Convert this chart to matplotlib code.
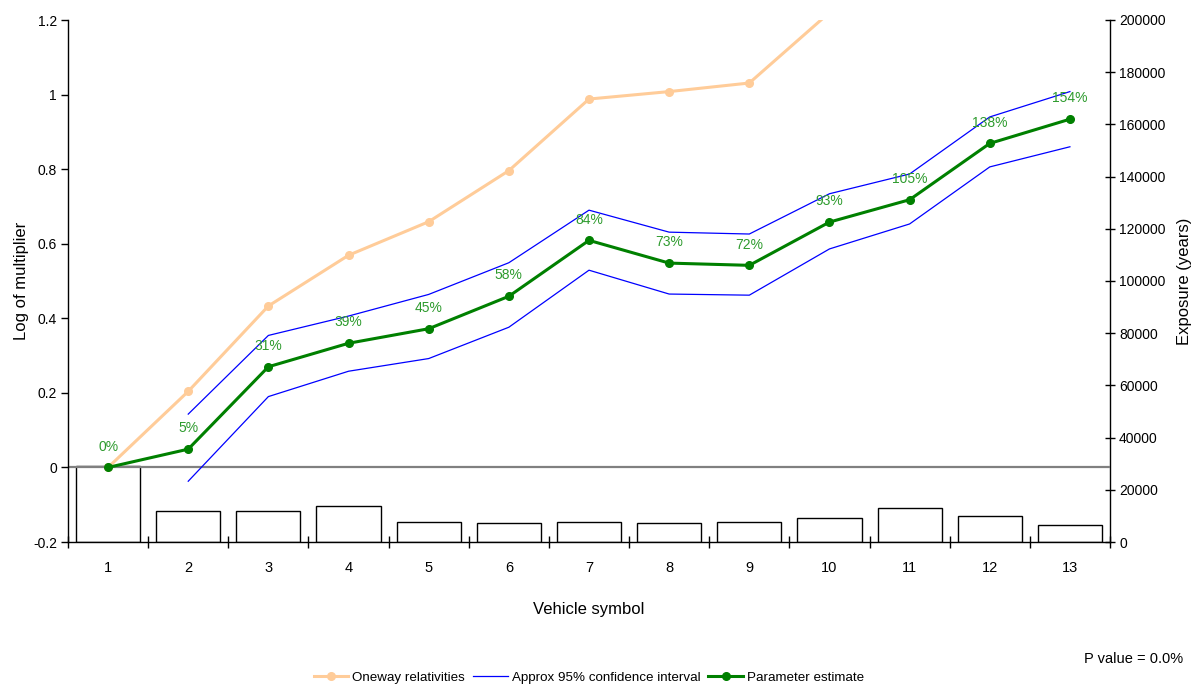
import matplotlib
matplotlib.use("Agg")
import matplotlib.pyplot as plt
import numpy as np
from matplotlib.ticker import FixedLocator, NullFormatter

plt.rcParams['font.family'] = ['Liberation Sans', 'DejaVu Sans']

categories = [str(i) for i in range(1, 14)]
oneway = [0.0, 0.204, 0.433, 0.569, 0.659, 0.796, 0.988, 1.008, 1.031, 1.22, 1.33, 1.52, 1.60]
upper_ci = [np.nan, 0.143, 0.354, 0.406, 0.464, 0.549, 0.690, 0.631, 0.626, 0.734, 0.787, 0.940, 1.008]
lower_ci = [np.nan, -0.037, 0.190, 0.258, 0.292, 0.376, 0.529, 0.465, 0.462, 0.586, 0.653, 0.806, 0.860]
estimate = [0.0, 0.049, 0.270, 0.333, 0.372, 0.459, 0.609, 0.548, 0.542, 0.658, 0.718, 0.869, 0.934]
pct_labels = ["0%", "5%", "31%", "39%", "45%", "58%", "84%", "73%", "72%", "93%", "105%", "138%", "154%"]
exposure = [28960, 11720, 11720, 13620, 7850, 7460, 7850, 7440, 7820, 9360, 13200, 9850, 6700]

x = np.arange(1, len(categories) + 1)

fig = plt.figure(figsize=(11.99, 6.86), dpi=100)
ax = fig.add_axes([68/1199, 1 - 542/686, (1110 - 68)/1199, (542 - 20)/686])
axr = ax.twinx()

# bars on right axis
axr.bar(x, exposure, width=0.8, facecolor='white', edgecolor='black', linewidth=1.0, zorder=1)
axr.set_ylim(0, 200000)
axr.set_yticks(np.arange(0, 200001, 20000))
axr.set_yticklabels([str(v) for v in range(0, 200001, 20000)], fontsize=10)
axr.tick_params(axis='y', direction='inout', length=7, width=1, pad=3, color='black')
axr.set_ylabel("Exposure (years)", fontsize=12, labelpad=8)

ax.set_zorder(axr.get_zorder() + 1)
ax.patch.set_visible(False)

ax.axhline(0, color='#808080', lw=1.6, zorder=2)
l1, = ax.plot(x, oneway, color='#FFCC99', lw=2.2, marker='o', ms=5.5, zorder=3, clip_on=True)
l2, = ax.plot(x, upper_ci, color='#0000FF', lw=0.9, zorder=4)
ax.plot(x, lower_ci, color='#0000FF', lw=0.9, zorder=4)
l3, = ax.plot(x, estimate, color='#008000', lw=2.2, marker='o', ms=5.5, zorder=5)

for xi, yi, lab in zip(x, estimate, pct_labels):
    ax.annotate(lab, (xi, yi), xytext=(0, 15), textcoords='offset points',
                ha='center', va='center', fontsize=10, color='#2E9B2E', zorder=6)

ax.set_xlim(0.5, 13.5)
ax.set_ylim(-0.2, 1.2)
ax.set_yticks([-0.2, 0, 0.2, 0.4, 0.6, 0.8, 1.0, 1.2])
ax.set_yticklabels(["-0.2", "0", "0.2", "0.4", "0.6", "0.8", "1", "1.2"], fontsize=10)
ax.tick_params(axis='y', direction='out', length=5, width=1, pad=3)

ax.xaxis.set_major_locator(FixedLocator(np.arange(0.5, 14.0, 1.0)))
ax.xaxis.set_major_formatter(NullFormatter())
ax.xaxis.set_minor_locator(FixedLocator(x))
ax.set_xticklabels(categories, minor=True, fontsize=10.5)
ax.tick_params(axis='x', which='major', direction='inout', length=9, width=1)
ax.tick_params(axis='x', which='minor', length=0, pad=14)

ax.set_xlabel("Vehicle symbol", fontsize=12, labelpad=19)
ax.set_ylabel("Log of multiplier", fontsize=12, labelpad=3)

for a in (ax, axr):
    a.spines['top'].set_visible(False)
    for s in ('left', 'right', 'bottom'):
        a.spines[s].set_color('black')
        a.spines[s].set_linewidth(1.0)
ax.spines['right'].set_visible(False)
axr.spines['left'].set_visible(False)
axr.spines['bottom'].set_visible(False)

fig.legend([l1, l2, l3], ["Oneway relativities", "Approx 95% confidence interval", "Parameter estimate"],
           loc='center', bbox_to_anchor=(0.4912, 0.012), ncol=3, frameon=False, fontsize=9.6,
           handlelength=2.6, columnspacing=0.6, handletextpad=0.3)

fig.text(1183/1199, 1 - 659/686, "P value = 0.0%", ha='right', va='center', fontsize=10.5)

fig.savefig("out.png", dpi=100)
